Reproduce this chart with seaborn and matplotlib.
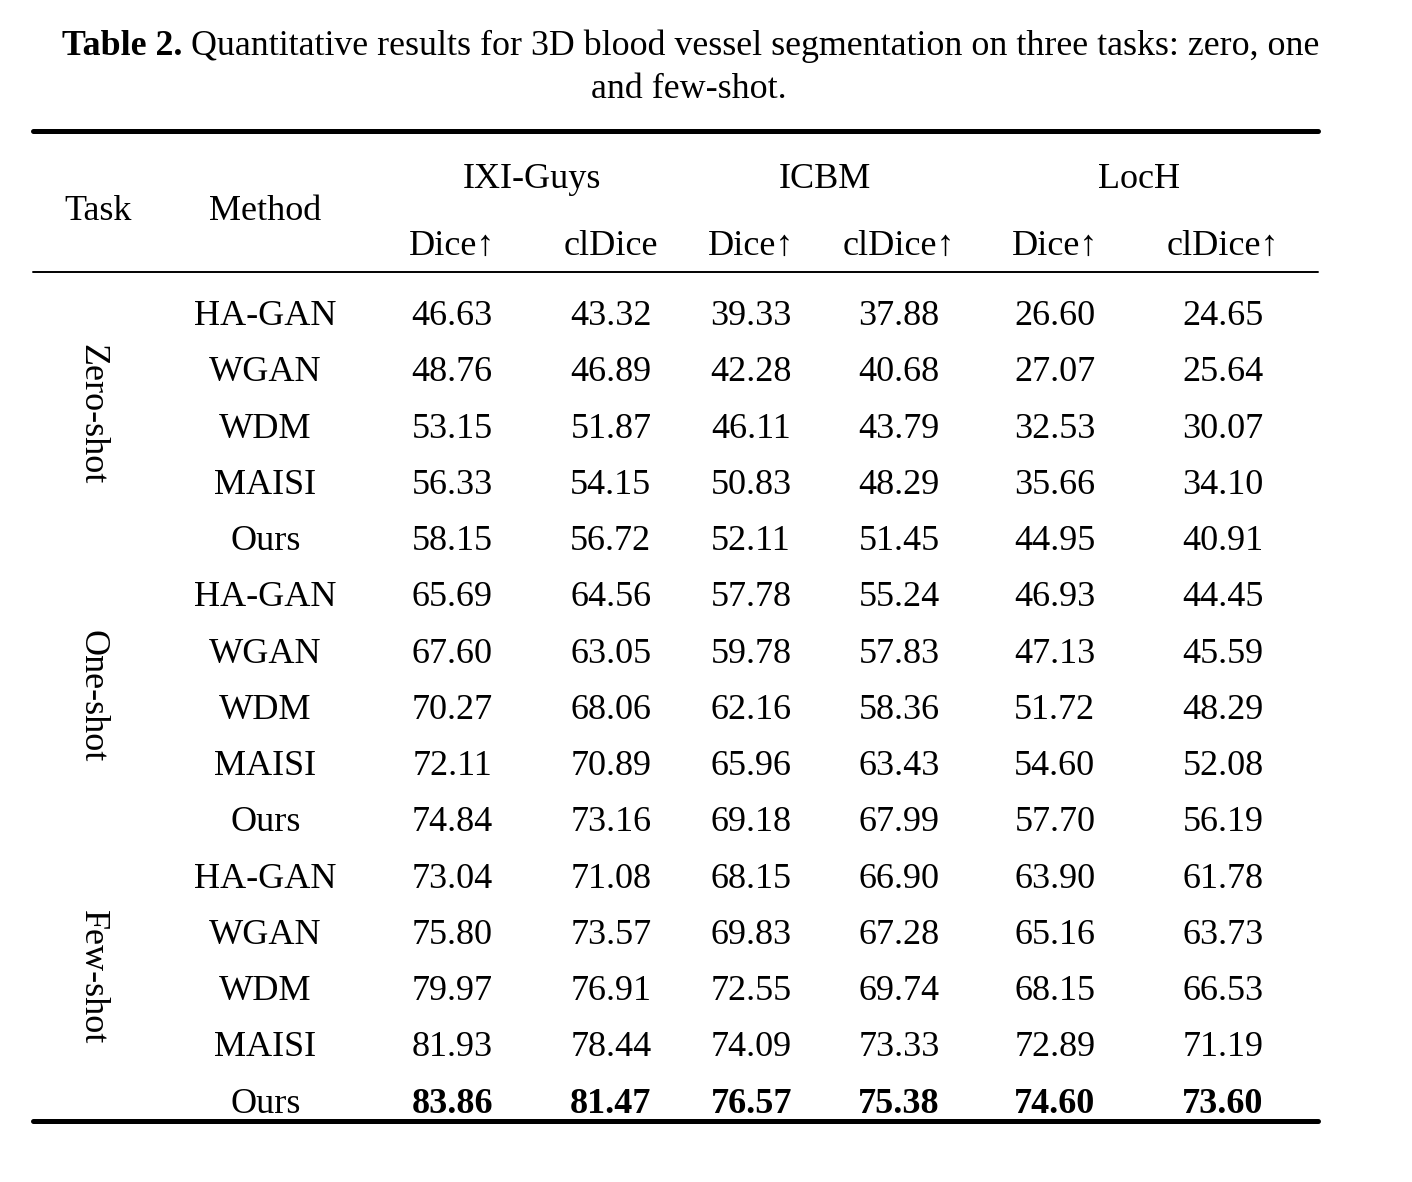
import numpy as np
import pandas as pd
import seaborn as sns
import matplotlib.pyplot as plt
from matplotlib.colors import ListedColormap
from matplotlib.lines import Line2D
from matplotlib.transforms import blended_transform_factory

sns.set_theme(style="white")
plt.rcParams['font.family'] = ['Liberation Serif', 'DejaVu Serif']
plt.rcParams['font.size'] = 26
for k in ['text.color', 'xtick.color', 'ytick.color', 'axes.labelcolor']:
    plt.rcParams[k] = 'black'

# table contents
tasks = ["Zero-shot", "One-shot", "Few-shot"]
methods = ["HA-GAN", "WGAN", "WDM", "MAISI", "Ours"] * 3
datasets = ["IXI-Guys", "ICBM", "LocH"]
metrics = ["Dice\u2191", "clDice", "Dice\u2191", "clDice\u2191", "Dice\u2191", "clDice\u2191"]

ixi_dice = [46.63, 48.76, 53.15, 56.33, 58.15, 65.69, 67.60, 70.27, 72.11, 74.84,
            73.04, 75.80, 79.97, 81.93, 83.86]
ixi_cldice = [43.32, 46.89, 51.87, 54.15, 56.72, 64.56, 63.05, 68.06, 70.89, 73.16,
              71.08, 73.57, 76.91, 78.44, 81.47]
icbm_dice = [39.33, 42.28, 46.11, 50.83, 52.11, 57.78, 59.78, 62.16, 65.96, 69.18,
             68.15, 69.83, 72.55, 74.09, 76.57]
icbm_cldice = [37.88, 40.68, 43.79, 48.29, 51.45, 55.24, 57.83, 58.36, 63.43, 67.99,
               66.90, 67.28, 69.74, 73.33, 75.38]
loch_dice = [26.60, 27.07, 32.53, 35.66, 44.95, 46.93, 47.13, 51.72, 54.60, 57.70,
             63.90, 65.16, 68.15, 72.89, 74.60]
loch_cldice = [24.65, 25.64, 30.07, 34.10, 40.91, 44.45, 45.59, 48.29, 52.08, 56.19,
               61.78, 63.73, 66.53, 71.19, 73.60]

df = pd.DataFrame(np.column_stack([ixi_dice, ixi_cldice, icbm_dice, icbm_cldice,
                                   loch_dice, loch_cldice]))

W, H = 1412, 1182
FS = 26
fig = plt.figure(figsize=(W / 100, H / 100), dpi=100)
fig.patch.set_facecolor('white')

def fx(x):
    return x / W

def fy(y):
    return 1 - y / H

# table body axes
left, right, top, bottom = 375, 1300, 285, 1129
ax = fig.add_axes([fx(left), fy(bottom), fx(right - left), fy(top) - fy(bottom)])
sns.heatmap(df, cmap=ListedColormap(['white']), cbar=False, annot=True, fmt='.2f',
            annot_kws={"color": "black", "size": FS}, xticklabels=metrics,
            yticklabels=methods, ax=ax)
for s in ax.spines.values():
    s.set_visible(False)

# nudge columns to match uneven spacing of the original
shifts = [0.0, 0.03, -0.06, -0.10, -0.09, 0.0]
dy = 0.06
ncol = len(metrics)
for k, t in enumerate(ax.texts):
    r, c = divmod(k, ncol)
    x, y = t.get_position()
    t.set_position((x + shifts[c], y + dy))
    if r == len(methods) - 1:
        t.set_fontweight('bold')

ax.xaxis.tick_top()
ax.set_xlabel('')
ax.set_ylabel('')
ax.set_xticks(np.arange(ncol) + 0.5 + np.array(shifts), labels=metrics)
ax.set_yticks(np.arange(len(methods)) + 0.5 + dy, labels=methods)
ax.tick_params(axis='x', length=0, pad=28, labelsize=FS, rotation=0)
ax.tick_params(axis='y', length=0, pad=79, labelsize=FS, rotation=0)
for lab in ax.get_xticklabels():
    lab.set_verticalalignment('center')
for lab in ax.get_yticklabels():
    lab.set_horizontalalignment('center')

# dataset headers (span two metric columns)
tr = blended_transform_factory(ax.transData, fig.transFigure)
for i, d in enumerate(datasets):
    xc = (2 * i + 1 + (shifts[2 * i] + shifts[2 * i + 1]) / 2)
    ax.text(xc, fy(179), d, transform=tr, ha='center', va='center', fontsize=FS)

fig.text(fx(98), fy(211), "Task", ha='center', va='center', fontsize=FS)
fig.text(fx(265), fy(211), "Method", ha='center', va='center', fontsize=FS)

# task group labels
tr2 = blended_transform_factory(fig.transFigure, ax.transData)
for i, t in enumerate(tasks):
    ax.text(fx(92), 5 * i + 2.3, t, transform=tr2, rotation=-90,
            ha='center', va='center', fontsize=FS)

# rules
for y, lw in [(131, 3.6), (272, 1.4), (1121, 3.6)]:
    fig.add_artist(Line2D([fx(33), fx(1318)], [fy(y), fy(y)], color='black',
                          lw=lw, transform=fig.transFigure))

# caption
TFS = 25.8
t1 = fig.text(fx(62), fy(63), "Table 2.", fontweight='bold', ha='left', va='bottom',
              fontsize=TFS)
ax.annotate(" Quantitative results for 3D blood vessel segmentation on three tasks: zero, one",
            xy=(1, 0), xycoords=t1, ha='left', va='bottom', fontsize=TFS,
            annotation_clip=False)
fig.text(fx(689), fy(90), "and few-shot.", ha='center', va='center', fontsize=TFS)

fig.savefig("out.png", dpi=100, facecolor='white')
